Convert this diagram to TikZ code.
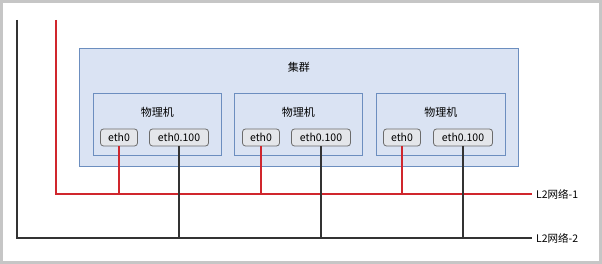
\documentclass[tikz,border=0pt]{standalone}
\usepackage{fontspec}
\setmainfont{Noto Sans CJK SC}
\definecolor{clusterfill}{HTML}{DAE3F3}
\definecolor{clusterline}{HTML}{6C8EBF}
\definecolor{nicfill}{HTML}{E4E6EA}
\definecolor{nicline}{HTML}{6B6B6B}
\definecolor{redlan}{HTML}{D0262D}
\definecolor{blacklan}{HTML}{333333}
\definecolor{framegray}{HTML}{C6C6C6}
\tikzset{
  groupbox/.style={draw=clusterline, fill=clusterfill, line width=0.8pt,
                   anchor=north west, inner sep=0pt},
  nic/.style={draw=nicline, fill=nicfill, rounded corners=3pt, line width=0.8pt,
              minimum height=17pt, inner sep=0pt, font=\fontsize{10.5}{12}\selectfont},
  boxtitle/.style={font=\fontsize{11}{12}\selectfont, inner sep=0pt},
  netlabel/.style={anchor=west, inner sep=4pt, font=\fontsize{10.5}{12}\selectfont},
  lanone/.style={draw=redlan, line width=1.3pt},
  lantwo/.style={draw=blacklan, line width=1.3pt},
}

\begin{document}
\begin{tikzpicture}[x=1pt, y=-1pt]
    \useasboundingbox (0,0) rectangle (602,264);
    \draw[framegray, line width=3pt] (1.5,1.5) rectangle (600.5,262.5);
    % cluster and hosts
    \node[groupbox, minimum width=439pt, minimum height=118pt] (cluster) at (79,48) {};
    \node[boxtitle] (ctitle) at ([yshift=-19pt]cluster.north) {集群};
    \node[groupbox, minimum width=128pt, minimum height=62pt] (host1) at (93,93) {};
    \node[groupbox, minimum width=128pt, minimum height=62pt] (host2) at (234,93) {};
    \node[groupbox, minimum width=129pt, minimum height=62pt] (host3) at (376,93) {};
    \node[boxtitle] (htitle1) at ([yshift=-19pt]host1.north) {物理机};
    \node[boxtitle] (htitle2) at ([yshift=-19pt]host2.north) {物理机};
    \node[boxtitle] (htitle3) at ([yshift=-19pt]host3.north) {物理机};
    % interfaces
    \node[nic, minimum width=37pt] (eth1) at (119,137.5) {eth0};
    \node[nic, minimum width=59pt] (vlan1) at (179,137.5) {eth0.100};
    \node[nic, minimum width=37pt] (eth2) at (261,137.5) {eth0};
    \node[nic, minimum width=59pt] (vlan2) at (321,137.5) {eth0.100};
    \node[nic, minimum width=37pt] (eth3) at (402,137.5) {eth0};
    \node[nic, minimum width=59pt] (vlan3) at (463,137.5) {eth0.100};
    % networks
    \node[netlabel] (net1) at (532,194) {L2网络-1};
    \node[netlabel] (net2) at (532,238) {L2网络-2};
    \coordinate (net1top) at (56,20);
    \coordinate (net2top) at (17,20);
    \draw[lanone] (net1top) |- (net1.west);
    \draw[lantwo] (net2top) |- (net2.west);
    \draw[lanone] (eth1.south) -- (eth1.south |- net1.west);
    \draw[lanone] (eth2.south) -- (eth2.south |- net1.west);
    \draw[lanone] (eth3.south) -- (eth3.south |- net1.west);
    \draw[lantwo] (vlan1.south) -- (vlan1.south |- net2.west);
    \draw[lantwo] (vlan2.south) -- (vlan2.south |- net2.west);
    \draw[lantwo] (vlan3.south) -- (vlan3.south |- net2.west);
\end{tikzpicture}
\end{document}
